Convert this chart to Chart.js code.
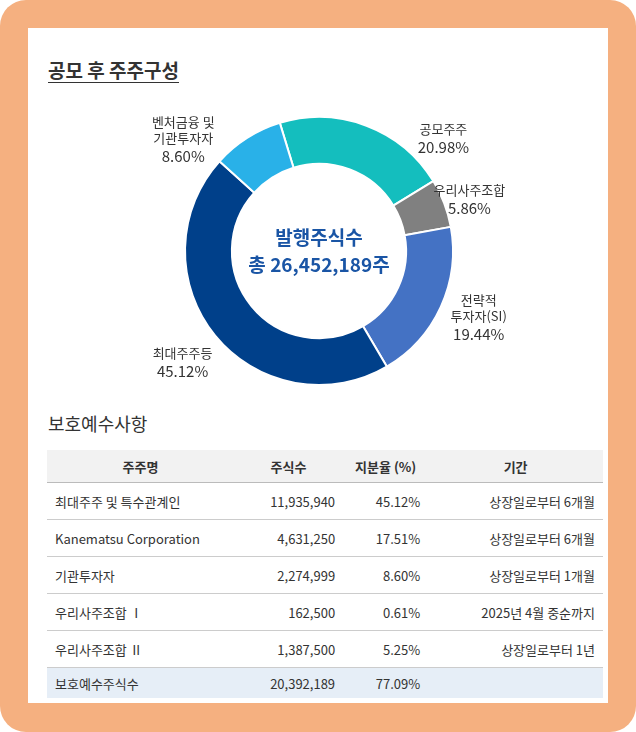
<!DOCTYPE html>
<html><head><meta charset="utf-8">
<script src="https://cdn.jsdelivr.net/npm/chart.js@4"></script>
<style>
body{margin:0;width:636px;height:732px;background:#fff;font-family:"Noto Sans CJK KR","Noto Sans",sans-serif;color:#333;}
#frame{position:absolute;left:0;top:0;width:636px;height:732px;background:#F5B080;border-radius:26px;}
#panel{position:absolute;left:28px;top:28px;width:580px;height:675px;background:#fff;}
#title{position:absolute;left:20px;top:28px;font-size:19px;font-weight:bold;text-decoration:underline;text-underline-offset:4px;color:#333;}
#wrap{position:absolute;left:0;top:62px;width:580px;height:310px;}
#sub{position:absolute;left:20px;top:382px;font-size:18px;color:#333;}
table{position:absolute;left:19px;top:422px;width:556px;border-collapse:collapse;font-size:13px;}
th{background:#F2F2F2;font-weight:bold;height:30px;border-bottom:1px solid #bbb;}
td{height:36px;border-bottom:1px solid #ccc;text-align:right;padding:0 8px;}
td:first-child{text-align:left;}
tr.tot td{background:#E6EEF7;height:30px;border-bottom:none;}
</style></head><body>
<div id="frame"></div>
<div id="panel">
<div id="title">공모 후 주주구성</div>
<div id="wrap"><canvas id="c" width="580" height="310"></canvas></div>
<div id="sub">보호예수사항</div>
<table id="t"></table>
</div>
<script>
const labels = [['공모주주'], ['우리사주조합'], ['전략적', '투자자(SI)'], ['최대주주등'], ['벤처금융 및', '기관투자자']];
const shares = [20.98, 5.86, 19.44, 45.12, 8.60];
const colors = ['#14BEBE', '#808080', '#4472C4', '#00408A', '#29B1E8'];
const labelTurn = [27, 2, -2, 0, -18];
const labelDist = [168, 159, 173, 176, 176];

const headers = ['주주명', '주식수', '지분율 (%)', '기간'];
const holders = ['최대주주 및 특수관계인', 'Kanematsu Corporation', '기관투자자', '우리사주조합 Ⅰ', '우리사주조합 Ⅱ', '보호예수주식수'];
const lockShares = ['11,935,940', '4,631,250', '2,274,999', '162,500', '1,387,500', '20,392,189'];
const lockPct = ['45.12%', '17.51%', '8.60%', '0.61%', '5.25%', '77.09%'];
const periods = ['상장일로부터 6개월', '상장일로부터 6개월', '상장일로부터 1개월', '2025년 4월 중순까지', '상장일로부터 1년', ''];

let html = '<tr>' + headers.map(h => '<th>' + h + '</th>').join('') + '</tr>';
holders.forEach((h, i) => {
    html += '<tr' + (i === holders.length - 1 ? ' class="tot"' : '') + '><td>' + h + '</td><td>' + lockShares[i] + '</td><td>' + lockPct[i] + '</td><td>' + periods[i] + '</td></tr>';
});
document.getElementById('t').innerHTML = html;
document.querySelectorAll('#t th')[0].style.width = '185px';

const outsideLabels = {
    id: 'outsideLabels',
    afterDraw(chart) {
        const ctx = chart.ctx;
        const meta = chart.getDatasetMeta(0);
        meta.data.forEach((arc, i) => {
            const p = arc.getProps(['x', 'y', 'startAngle', 'endAngle']);
            const a = (p.startAngle + p.endAngle) / 2 + labelTurn[i] * Math.PI / 180;
            const x = p.x + Math.cos(a) * labelDist[i];
            const y = p.y + Math.sin(a) * labelDist[i];
            const lines = labels[i];
            const total = lines.length * 16 + 18;
            let yy = y - total / 2 + 8;
            ctx.save();
            ctx.textAlign = 'center';
            ctx.textBaseline = 'middle';
            ctx.fillStyle = '#333';
            ctx.font = '13px "Noto Sans CJK KR"';
            lines.forEach(l => { ctx.fillText(l, x, yy); yy += 16; });
            ctx.font = '15px "Noto Sans CJK KR"';
            ctx.fillText(shares[i].toFixed(2) + '%', x, yy + 2);
            ctx.restore();
        });
        const c = meta.data[0];
        ctx.save();
        ctx.textAlign = 'center';
        ctx.textBaseline = 'middle';
        ctx.fillStyle = '#1A55A5';
        ctx.font = 'bold 19px "Noto Sans CJK KR"';
        ctx.fillText('발행주식수', c.x, c.y - 13);
        ctx.fillText('총 26,452,189주', c.x, c.y + 14);
        ctx.restore();
    }
};

new Chart(document.getElementById('c'), {
    type: 'doughnut',
    data: {
        labels: labels.map(l => l.join(' ')),
        datasets: [{
            data: shares,
            backgroundColor: colors,
            borderColor: '#fff',
            borderWidth: 2
        }]
    },
    options: {
        responsive: false,
        animation: false,
        rotation: -17,
        cutout: '65%',
        layout: { padding: { top: 26, bottom: 14, left: 2, right: 0 } },
        plugins: { legend: { display: false }, tooltip: { enabled: false } }
    },
    plugins: [outsideLabels]
});
</script>
</body></html>
